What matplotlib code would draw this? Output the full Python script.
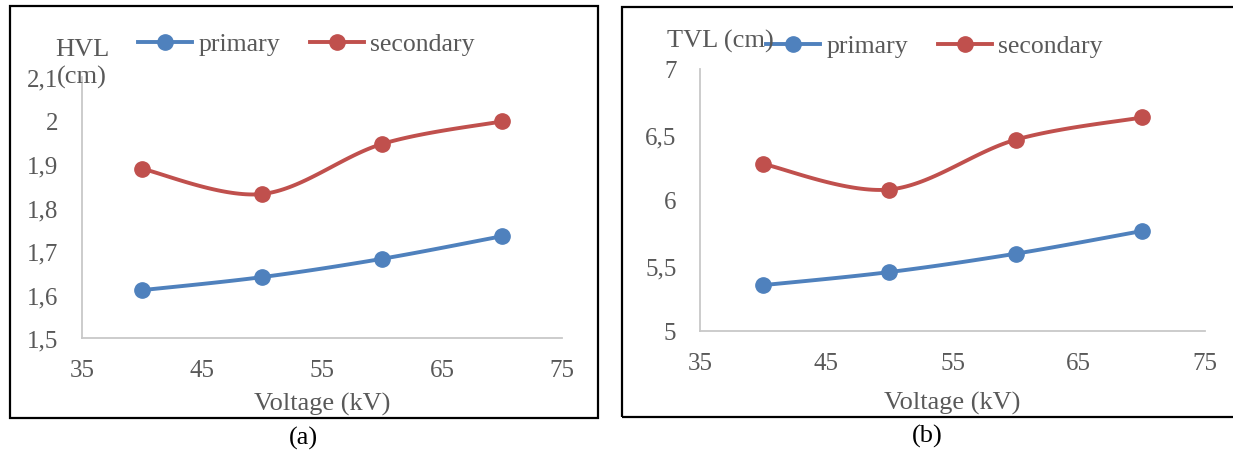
import matplotlib
matplotlib.use("Agg")
import matplotlib.pyplot as plt
import numpy as np
from matplotlib.patches import Rectangle

plt.rcParams['font.family'] = ['Liberation Serif', 'DejaVu Serif']

# data
voltage = [40, 50, 60, 70]
hvl_primary = [1.61, 1.64, 1.682, 1.734]
hvl_secondary = [1.889, 1.831, 1.946, 1.998]
tvl_primary = [5.35, 5.45, 5.59, 5.763]
tvl_secondary = [6.275, 6.08, 6.46, 6.63]

x_ticks = [35, 45, 55, 65, 75]
hvl_ticks = [1.5, 1.6, 1.7, 1.8, 1.9, 2.0, 2.1]
hvl_labels = ['1,5', '1,6', '1,7', '1,8', '1,9', '2', '2,1']
tvl_ticks = [5, 5.5, 6, 6.5, 7]
tvl_labels = ['5', '5,5', '6', '6,5', '7']

BLUE = '#4f81bd'
RED = '#c0504d'
GREY = '#595959'
W, H = 1233, 452


def smooth(xs, ys, n=40):
    # excel style smoothed line: bezier through points, catmull-rom tangents
    p = np.column_stack([xs, ys]).astype(float)
    p = np.vstack([p[0], p, p[-1]])
    out = []
    for i in range(1, len(p) - 2):
        p0, p1, p2, p3 = p[i - 1], p[i], p[i + 1], p[i + 2]
        c1 = p1 + (p2 - p0) / 6
        c2 = p2 - (p3 - p1) / 6
        t = np.linspace(0, 1, n)[:, None]
        seg = ((1 - t) ** 3 * p1 + 3 * (1 - t) ** 2 * t * c1
               + 3 * (1 - t) * t ** 2 * c2 + t ** 3 * p2)
        out.append(seg)
    out = np.vstack(out)
    return out[:, 0], out[:, 1]


fig = plt.figure(figsize=(W / 100, H / 100), dpi=100)

# panel frames
fig.patches.append(Rectangle((10 / W, 1 - 419 / H), 588 / W, 412 / H,
                             transform=fig.transFigure, fill=False,
                             ec='black', lw=1.6))
fig.patches.append(Rectangle((622 / W, 1 - 418 / H), 640 / W, 410 / H,
                             transform=fig.transFigure, fill=False,
                             ec='black', lw=1.6))

ax1 = fig.add_axes([82 / W, 1 - 339 / H, 480 / W, 261 / H])
ax2 = fig.add_axes([700 / W, 1 - 332 / H, 505 / W, 262 / H])

panels = [
    (ax1, hvl_primary, hvl_secondary, hvl_ticks, hvl_labels, 8),
    (ax2, tvl_primary, tvl_secondary, tvl_ticks, tvl_labels, 12),
]
for ax, prim, sec, yt, yl, lpad in panels:
    for ys, col, name in [(prim, BLUE, 'primary'), (sec, RED, 'secondary')]:
        sx, sy = smooth(voltage, ys)
        ax.plot(sx, sy, color=col, lw=2.8, solid_capstyle='round', zorder=3)
        ax.plot(voltage, ys, 'o', color=col, ms=11, zorder=4)
        ax.plot([], [], '-o', color=col, lw=2.8, ms=11, label=name)
    ax.set_xlim(35, 75)
    ax.set_ylim(yt[0], yt[-1])
    ax.set_xticks(x_ticks)
    ax.set_xticklabels([str(v) for v in x_ticks])
    ax.set_yticks(yt)
    ax.set_yticklabels(yl)
    ax.tick_params(length=0, labelsize=18, labelcolor=GREY)
    ax.tick_params(axis='y', pad=17)
    ax.tick_params(axis='x', pad=15)
    for s in ['top', 'right']:
        ax.spines[s].set_visible(False)
    for s in ['left', 'bottom']:
        ax.spines[s].set_color('#c8c8c8')
        ax.spines[s].set_linewidth(1.3)
    ax.set_facecolor('none')
    ax.set_xlabel('Voltage (kV)', fontsize=19, color=GREY, labelpad=lpad)

legend_pos = [(ax1, 138, 45), (ax2, 766, 47)]
for ax, lx, ly in legend_pos:
    ax.legend(loc='center left', bbox_to_anchor=(lx / W, 1 - ly / H),
              bbox_transform=fig.transFigure, ncol=2, frameon=False,
              fontsize=18.5, labelcolor=GREY, borderpad=0, borderaxespad=0,
              handlelength=2.1, handletextpad=0.25, columnspacing=1.15)

fig.text(82 / W, 1 - 64 / H, 'HVL\n(cm)', ha='center', va='center',
         fontsize=19, color=GREY, linespacing=1.25)
fig.text(667 / W, 1 - 41 / H, 'TVL (cm)', ha='left', va='center',
         fontsize=19, color=GREY)

fig.text(303 / W, 1 - 438 / H, '(a)', ha='center', va='center', fontsize=19,
         color='black')
fig.text(927 / W, 1 - 436 / H, '(b)', ha='center', va='center', fontsize=19,
         color='black')

fig.savefig('out.png', dpi=100)
